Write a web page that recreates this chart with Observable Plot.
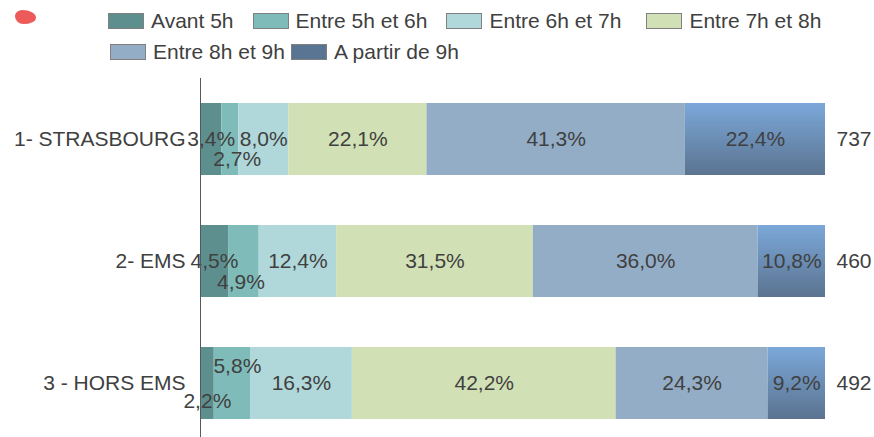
<!DOCTYPE html>
<html>
<head>
<meta charset="utf-8">
<script src="https://cdn.jsdelivr.net/npm/d3@7"></script>
<script src="https://cdn.jsdelivr.net/npm/@observablehq/plot@0.6"></script>
<style>
  body { margin: 0; background: #fff; font-family: "Liberation Sans", Arial, sans-serif; color: #404040; }
  #wrap { position: relative; width: 874px; height: 437px; overflow: hidden; }
  #blob { position: absolute; left: 15px; top: 10px; width: 21px; height: 14px; background: #ec5a5a; border-radius: 35% 65% 60% 40% / 45% 55% 45% 55%; }
  .row { position: absolute; display: flex; align-items: center; font-size: 21px; white-space: nowrap; }
  .item { display: flex; align-items: center; }
  .sw { width: 34px; height: 14px; border: 1px solid #808080; margin-right: 7px; }
  #chart { position: absolute; left: 0; top: 0; }
</style>
</head>
<body>
<div id="wrap">
  <div id="chart"></div>
  <div id="blob"></div>
  <div class="row" id="row1" style="left:108px; top:9px; gap:19px;"></div>
  <div class="row" id="row2" style="left:110px; top:40px; gap:6px;"></div>
</div>
<script>
const categories = ["1- STRASBOURG", "2- EMS", "3 - HORS EMS"];
const series = ["Avant 5h", "Entre 5h et 6h", "Entre 6h et 7h", "Entre 7h et 8h", "Entre 8h et 9h", "A partir de 9h"];
const strasbourg = [3.4, 2.7, 8.0, 22.1, 41.3, 22.4];
const ems = [4.5, 4.9, 12.4, 31.5, 36.0, 10.8];
const horsEms = [2.2, 5.8, 16.3, 42.2, 24.3, 9.2];
const totals = [737, 460, 492];

const colors = ["#5e8f8f", "#7fbcb9", "#b0d8da", "#d2e1b5", "#93adc7", "url(#grad9)"];
const legendColors = ["#5e8f8f", "#7fbcb9", "#b0d8da", "#d2e1b5", "#93adc7", "#5a7594"];

const valuesByCat = [strasbourg, ems, horsEms];
const rows = [];
categories.forEach((c, i) => series.forEach((s, j) => rows.push({cat: c, series: s, value: valuesByCat[i][j]})));

const fmt = v => v.toFixed(1).replace(".", ",") + "%";

// label nudges for narrow segments (layout only)
const nudges = [
  {cat: categories[0], series: series[1], dx: 7, dy: 20},
  {cat: categories[1], series: series[1], dx: -3, dy: 21},
  {cat: categories[2], series: series[0], dx: 0, dy: 18},
  {cat: categories[2], series: series[1], dx: 5, dy: -17}
];
const isNudged = d => nudges.some(n => n.cat === d.cat && n.series === d.series);

const stackOpts = (text) => Plot.stackX({x: "value", y: "cat", offset: "normalize", text});

const marks = [
  Plot.barX(rows, Plot.stackX({x: "value", y: "cat", fill: "series", offset: "normalize"})),
  Plot.text(rows, {...stackOpts(d => isNudged(d) ? "" : fmt(d.value)), fontSize: 21, fill: "#404040"}),
  ...nudges.map(n => Plot.text(rows, {
    ...stackOpts(d => (d.cat === n.cat && d.series === n.series) ? fmt(d.value) : ""),
    dx: n.dx, dy: n.dy, fontSize: 21, fill: "#404040"
  })),
  Plot.text(categories, {x: 1, y: d => d, text: (d, i) => String(totals[i]), dx: 11, textAnchor: "start", fontSize: 21, fill: "#404040"}),
  Plot.ruleX([0], {stroke: "#595959", strokeWidth: 1})
];

const svg = Plot.plot({
  width: 874,
  height: 437,
  marginTop: 78,
  marginBottom: 0,
  marginLeft: 200,
  marginRight: 49,
  style: {fontSize: "21px", fontFamily: "'Liberation Sans', Arial, sans-serif", color: "#404040", background: "transparent"},
  x: {domain: [0, 1], axis: null},
  y: {domain: categories, range: [78, 443], paddingInner: 0.41, paddingOuter: 0.2, tickSize: 0, tickPadding: 15, label: null},
  color: {domain: series, range: colors},
  marks
});

const ns = "http://www.w3.org/2000/svg";
const defs = document.createElementNS(ns, "defs");
defs.innerHTML = '<linearGradient id="grad9" x1="0" y1="0" x2="0" y2="1"><stop offset="0" stop-color="#7ba8d9"/><stop offset="1" stop-color="#5b7390"/></linearGradient>';
svg.insertBefore(defs, svg.firstChild);
document.getElementById("chart").appendChild(svg);

function addItem(rowId, j, extra) {
  const it = document.createElement("div");
  it.className = "item";
  if (extra) it.style.marginLeft = extra + "px";
  const sw = document.createElement("div");
  sw.className = "sw";
  sw.style.background = legendColors[j];
  const t = document.createElement("span");
  t.textContent = series[j];
  it.appendChild(sw); it.appendChild(t);
  document.getElementById(rowId).appendChild(it);
}
[0, 1, 2, 3].forEach(j => addItem("row1", j, j === 3 ? 6 : 0));
[4, 5].forEach(j => addItem("row2", j, 0));
</script>
</body>
</html>
